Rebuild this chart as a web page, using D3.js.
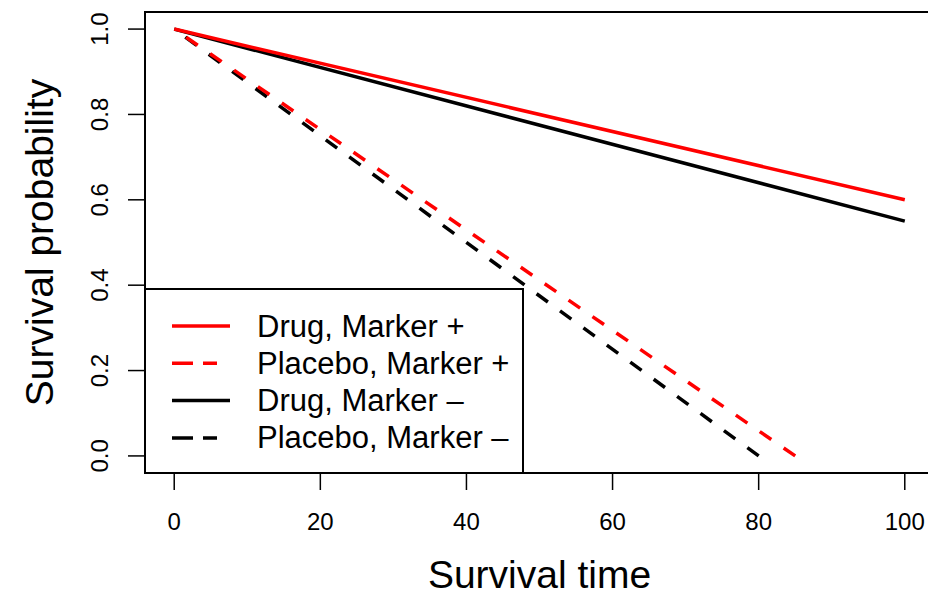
<!DOCTYPE html>
<html>
<head>
<meta charset="utf-8">
<script src="https://cdn.jsdelivr.net/npm/d3@7"></script>
<style>
  body { margin: 0; background: #fff; }
  text { font-family: "Liberation Sans", Arial, Helvetica, sans-serif; fill: #000; }
</style>
</head>
<body>
<div id="chart"></div>
<script>
// survival curves, one entry per group
var seriesNames = ['Drug, Marker +', 'Placebo, Marker +', 'Drug, Marker \u2013', 'Placebo, Marker \u2013']
var seriesTimes = [[0, 100], [0, 85], [0, 100], [0, 80]]
var seriesSurv = [[1, 0.6], [1, 0], [1, 0.55], [1, 0]]
var xTicks = [0, 20, 40, 60, 80, 100]
var yTicks = [0, 0.2, 0.4, 0.6, 0.8, 1.0]

var colors = ['#ff0000', '#ff0000', '#000000', '#000000']
var dashed = [false, true, false, true]
var dashOn = 14
var dashOff = 15

var width = 928
var height = 597
var box = { left: 145, right: 934, top: 12, bottom: 473 }

var svg = d3.select('#chart')
  .append('svg')
  .attr('width', width)
  .attr('height', height)

// R style 4% padding on both axes
var x = d3.scaleLinear().domain([-4, 104]).range([box.left, box.right])
var y = d3.scaleLinear().domain([-0.04, 1.04]).range([box.bottom, box.top])

var line = d3.line()
  .x(function (d) { return x(d.t) })
  .y(function (d) { return y(d.s) })

// black groups first so the red ones sit on top
var order = [2, 3, 0, 1]
order.forEach(function (i) {
  var pts = seriesTimes[i].map(function (t, j) {
    return { t: t, s: seriesSurv[i][j] }
  })
  var path = svg.append('path')
    .datum(pts)
    .attr('d', line)
    .attr('fill', 'none')
    .attr('stroke', colors[i])
    .attr('stroke-width', 3.5)
  if (dashed[i]) {
    // shift the pattern so the last dash finishes right at the end point
    var len = path.node().getTotalLength()
    var period = dashOn + dashOff
    var off = ((dashOn - len) % period + period) % period
    path.attr('stroke-dasharray', dashOn + ',' + dashOff)
      .attr('stroke-dashoffset', off)
  }
})

// x axis
var xAxis = svg.append('g')
xAxis.selectAll('line')
  .data(xTicks)
  .enter()
  .append('line')
  .attr('x1', function (d) { return x(d) })
  .attr('x2', function (d) { return x(d) })
  .attr('y1', box.bottom + 1)
  .attr('y2', box.bottom + 17)
  .attr('stroke', '#000')
  .attr('stroke-width', 1.5)
xAxis.selectAll('text')
  .data(xTicks)
  .enter()
  .append('text')
  .attr('x', function (d) { return x(d) })
  .attr('y', 530)
  .attr('text-anchor', 'middle')
  .style('font-size', '24px')
  .text(function (d) { return d })

// y axis
var yAxis = svg.append('g')
yAxis.selectAll('line')
  .data(yTicks)
  .enter()
  .append('line')
  .attr('x1', box.left - 17)
  .attr('x2', box.left - 1)
  .attr('y1', function (d) { return y(d) })
  .attr('y2', function (d) { return y(d) })
  .attr('stroke', '#000')
  .attr('stroke-width', 1.5)
yAxis.selectAll('text')
  .data(yTicks)
  .enter()
  .append('text')
  .attr('transform', function (d) {
    return 'translate(108,' + y(d) + ') rotate(-90)'
  })
  .attr('text-anchor', 'middle')
  .style('font-size', '24px')
  .text(function (d) { return d.toFixed(1) })

// axis titles
svg.append('text')
  .attr('x', (box.left + box.right) / 2)
  .attr('y', 588)
  .attr('text-anchor', 'middle')
  .style('font-size', '39px')
  .text('Survival time')

svg.append('text')
  .attr('transform', 'translate(53,' + (box.top + box.bottom) / 2 + ') rotate(-90)')
  .attr('text-anchor', 'middle')
  .style('font-size', '39px')
  .text('Survival probability')

// legend, bottom left
var legend = svg.append('g')
legend.append('rect')
  .attr('x', box.left)
  .attr('y', 289)
  .attr('width', 378)
  .attr('height', box.bottom - 289)
  .attr('fill', '#fff')
  .attr('stroke', '#000')
  .attr('stroke-width', 2)

var rowY = function (i) { return 326 + i * 37.3 }
var items = legend.selectAll('.item')
  .data(seriesNames)
  .enter()
  .append('g')
  .attr('class', 'item')
items.append('line')
  .attr('x1', 172)
  .attr('x2', 230)
  .attr('y1', function (d, i) { return rowY(i) })
  .attr('y2', function (d, i) { return rowY(i) })
  .attr('stroke', function (d, i) { return colors[i] })
  .attr('stroke-width', 3.5)
  .attr('stroke-dasharray', function (d, i) { return dashed[i] ? '21,10,14,20' : null })
items.append('text')
  .attr('x', 257)
  .attr('y', function (d, i) { return rowY(i) + 10.5 })
  .style('font-size', '31px')
  .text(function (d) { return d })

// plot frame
svg.append('rect')
  .attr('x', box.left)
  .attr('y', box.top)
  .attr('width', box.right - box.left)
  .attr('height', box.bottom - box.top)
  .attr('fill', 'none')
  .attr('stroke', '#000')
  .attr('stroke-width', 2)
</script>
</body>
</html>
